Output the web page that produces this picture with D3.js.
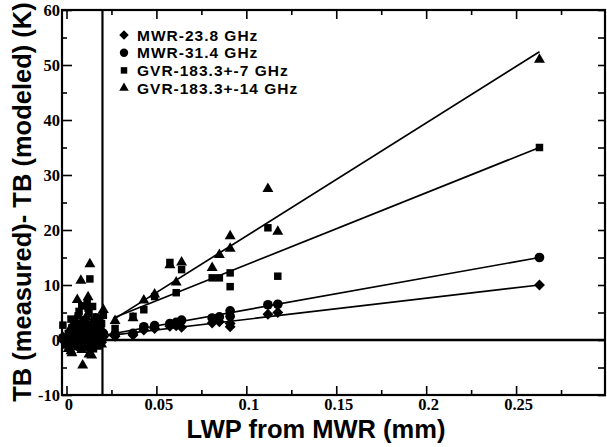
<!DOCTYPE html>
<html>
<head>
<meta charset="utf-8">
<script src="https://cdn.jsdelivr.net/npm/d3@7"></script>
<style>
	html, body { margin: 0; padding: 0; background: #fff; }
	svg { display: block; }
</style>
</head>
<body>
<div id="chart"></div>
<script>
// channel names, legend order
const seriesNames = ['MWR-23.8 GHz', 'MWR-31.4 GHz', 'GVR-183.3+-7 GHz', 'GVR-183.3+-14 GHz'];

// LWP (mm) of each case, shared by all four channels
const lwp = [
	-0.002, 0.0, 0.001, 0.002, 0.003, 0.004, 0.005, 0.006, 0.007, 0.008, 0.009,
	0.010, 0.011, 0.012, 0.013, 0.014, 0.015, 0.016, 0.017, 0.018, 0.019, 0.0205,
	0.0025, 0.0045, 0.0065, 0.0085, 0.0105, 0.0115, 0.0125, 0.0145, 0.0155, 0.0165, 0.0185, 0.0195,
	0.027, 0.037, 0.043, 0.049, 0.0575, 0.061, 0.064, 0.081, 0.085, 0.091, 0.091,
	0.112, 0.1175, 0.263,
];

// TB measured - TB modeled (K)
const tb238 = [
	0.0, -0.4, 0.3, -0.8, 0.5, -0.2, 0.9, -1.1, 0.4, 1.3, -0.6,
	0.2, 1.0, -1.4, 0.7, -0.3, 1.1, 0.0, -0.7, 0.5, 0.2, 0.6,
	1.6, -0.9, 2.2, 0.0, 1.8, -0.9, 2.4, 0.9, -0.2, 1.7, 1.2, -0.4,
	0.7, 0.9, 1.8, 2.1, 2.5, 2.6, 2.3, 3.1, 3.3, 3.0, 2.4,
	4.7, 5.0, 10.0,
];
const tb314 = [
	0.4, 0.1, -0.5, 1.0, -0.2, 1.4, 0.0, 1.8, -1.0, 0.6, 2.1,
	-0.5, 1.2, 0.4, 1.9, -1.1, 0.5, 1.3, 0.2, -0.4, 0.9, 1.2,
	-0.6, 2.6, 0.3, 3.0, -0.3, 2.7, 0.8, 2.4, 3.2, -0.2, 2.0, 0.6,
	1.0, 1.2, 2.4, 2.6, 3.0, 3.2, 3.6, 4.0, 4.2, 5.3, 4.3,
	6.4, 6.5, 15.0,
];
const tb183p7 = [
	2.7, -0.5, 1.2, 0.3, 2.2, -1.2, 3.0, 0.8, 5.2, 2.0, -0.8,
	3.6, 1.0, 5.8, 11.1, 2.5, -1.6, 3.2, 1.4, 0.2, 2.6, 4.5,
	3.8, 1.6, 4.4, 6.2, 2.8, 6.6, 4.8, 6.1, 3.6, 4.2, -0.6, 3.0,
	2.1, 4.3, 5.5, 7.9, 14.1, 8.6, 12.8, 11.3, 11.3, 9.7, 12.2,
	20.4, 11.6, 35.0,
];
const tb183p14 = [
	0.5, -1.0, -1.6, 2.0, -2.4, 1.0, 3.5, 7.3, -0.5, 10.8, -4.6,
	2.8, 4.2, 7.8, 13.8, -2.8, 1.8, 3.8, -1.2, 2.4, 0.8, 5.5,
	-2.0, 0.6, 4.6, -1.8, 1.4, 3.2, -2.6, 0.2, 2.6, 1.0, 3.4, -0.8,
	3.5, 4.0, 7.2, 8.3, 13.6, 10.5, 14.1, 13.1, 15.5, 18.9, 16.6,
	27.5, 19.7, 51.0,
];

// linear fits (start / end of each fitted line)
const fitStartX = [0.023, 0.023, 0.026, 0.026];
const fitStartY = [0.8, 1.0, 4.0, 3.7];
const fitEndX = [0.263, 0.263, 0.263, 0.263];
const fitEndY = [10.0, 15.0, 35.0, 52.4];

// LWP threshold marked with the vertical line
const lwpThreshold = 0.02;

const xTicks = [0, 0.05, 0.1, 0.15, 0.2, 0.25];
const xMinorTicks = [0.025, 0.075, 0.125, 0.175, 0.225, 0.275];
const yTicks = [-10, 0, 10, 20, 30, 40, 50, 60];
const yMinorTicks = [-5, 5, 15, 25, 35, 45, 55];

const allSeries = [tb238, tb314, tb183p7, tb183p14];

const W = 607;
const H = 447;
const margin = { top: 10, right: 1, bottom: 52, left: 62 };

const svg = d3
	.select('#chart')
	.append('svg')
	.attr('width', W)
	.attr('height', H);

const x = d3.scaleLinear().domain([-0.0025, 0.3]).range([margin.left, W - margin.right]);
const y = d3.scaleLinear().domain([-10, 60]).range([H - margin.bottom, margin.top]);

const tickFont = 'Liberation Serif';
const labelFont = 'Liberation Sans';

// symbols: diamond, circle, square, triangle
const shapes = [
	{ type: d3.symbolSquare, size: 60, rotate: 45 },
	{ type: d3.symbolCircle, size: 74, rotate: 0 },
	{ type: d3.symbolSquare, size: 56, rotate: 0 },
	{ type: d3.symbolTriangle, size: 52, rotate: 0 },
];

function styleAxis(g) {
	g.attr('font-family', tickFont).attr('font-size', 16.5).attr('font-weight', 'bold');
	g.select('.domain').remove();
	g.selectAll('line').attr('stroke', '#000').attr('stroke-width', 1.6);
	g.selectAll('text').attr('fill', '#000');
}

const fmt = (d) => String(d);

// bottom axis
svg.append('g')
	.attr('transform', `translate(0,${y(-10)})`)
	.call(d3.axisBottom(x).tickValues(xTicks).tickSize(-9).tickPadding(3.5).tickFormat(fmt))
	.call(styleAxis)
	.call((g) => g.selectAll('text').attr('dx', 2));

svg.append('g')
	.attr('transform', `translate(0,${y(-10)})`)
	.call(d3.axisBottom(x).tickValues(xMinorTicks).tickSize(-5).tickFormat(''))
	.call(styleAxis);

// top axis
svg.append('g')
	.attr('transform', `translate(0,${y(60)})`)
	.call(d3.axisTop(x).tickValues(xTicks).tickSize(-9).tickFormat(''))
	.call(styleAxis);

svg.append('g')
	.attr('transform', `translate(0,${y(60)})`)
	.call(d3.axisTop(x).tickValues(xMinorTicks).tickSize(-5).tickFormat(''))
	.call(styleAxis);

// left axis
svg.append('g')
	.attr('transform', `translate(${x(-0.0025)},0)`)
	.call(d3.axisLeft(y).tickValues(yTicks).tickSize(-10).tickPadding(2).tickFormat(fmt))
	.call(styleAxis);

svg.append('g')
	.attr('transform', `translate(${x(-0.0025)},0)`)
	.call(d3.axisLeft(y).tickValues(yMinorTicks).tickSize(-5).tickFormat(''))
	.call(styleAxis);

// right axis
svg.append('g')
	.attr('transform', `translate(${x(0.3)},0)`)
	.call(d3.axisRight(y).tickValues(yTicks.concat(yMinorTicks)).tickSize(-8).tickFormat(''))
	.call(styleAxis);

// frame
svg.append('rect')
	.attr('x', x(-0.0025))
	.attr('y', y(60))
	.attr('width', x(0.3) - x(-0.0025) - 1)
	.attr('height', y(-10) - y(60))
	.attr('fill', 'none')
	.attr('stroke', '#000')
	.attr('stroke-width', 2.2);

// zero line and LWP threshold line
svg.append('line')
	.attr('x1', x(lwpThreshold))
	.attr('x2', x(0.3))
	.attr('y1', y(0))
	.attr('y2', y(0))
	.attr('stroke', '#000')
	.attr('stroke-width', 2.4);

svg.append('line')
	.attr('x1', x(lwpThreshold))
	.attr('x2', x(lwpThreshold))
	.attr('y1', y(60))
	.attr('y2', y(-10))
	.attr('stroke', '#000')
	.attr('stroke-width', 2.2);

// fitted lines
const fitLine = d3
	.line()
	.x((d) => x(d[0]))
	.y((d) => y(d[1]));

seriesNames.forEach((name, i) => {
	svg.append('path')
		.datum([
			[fitStartX[i], fitStartY[i]],
			[fitEndX[i], fitEndY[i]],
		])
		.attr('fill', 'none')
		.attr('stroke', '#000')
		.attr('stroke-width', 1.7)
		.attr('d', fitLine);
});

// points
allSeries.forEach((values, i) => {
	const sym = d3.symbol().type(shapes[i].type).size(shapes[i].size);
	svg.append('g')
		.selectAll('path')
		.data(values.map((v, j) => ({ lwp: lwp[j], tb: v })))
		.enter()
		.append('path')
		.attr('d', sym)
		.attr('transform', (d) => `translate(${x(d.lwp)},${y(d.tb)}) rotate(${shapes[i].rotate})`)
		.attr('fill', '#000');
});

// legend
const legend = svg.append('g').attr('transform', 'translate(124,35)');

const legendItems = legend
	.selectAll('g')
	.data(seriesNames)
	.enter()
	.append('g')
	.attr('transform', (d, i) => `translate(0,${i * 17.7})`);

legendItems
	.append('path')
	.attr('d', (d, i) => d3.symbol().type(shapes[i].type).size(shapes[i].size * 0.75)())
	.attr('transform', (d, i) => `rotate(${shapes[i].rotate})`)
	.attr('fill', '#000');

legendItems
	.append('text')
	.attr('x', 13)
	.attr('y', 5.5)
	.attr('font-family', labelFont)
	.attr('font-weight', 'bold')
	.attr('font-size', 15.5)
	.style('letter-spacing', '1px')
	.text((d) => d);

// axis titles
svg.append('text')
	.attr('x', 316)
	.attr('y', 438)
	.attr('text-anchor', 'middle')
	.attr('font-family', labelFont)
	.attr('font-weight', 'bold')
	.attr('font-size', 25.5)
	.text('LWP from MWR (mm)');

svg.append('text')
	.attr('transform', 'translate(31,202) rotate(-90)')
	.attr('text-anchor', 'middle')
	.attr('font-family', labelFont)
	.attr('font-weight', 'bold')
	.attr('font-size', 25.5)
	.text('TB (measured)- TB (modeled) (K)');
</script>
</body>
</html>
